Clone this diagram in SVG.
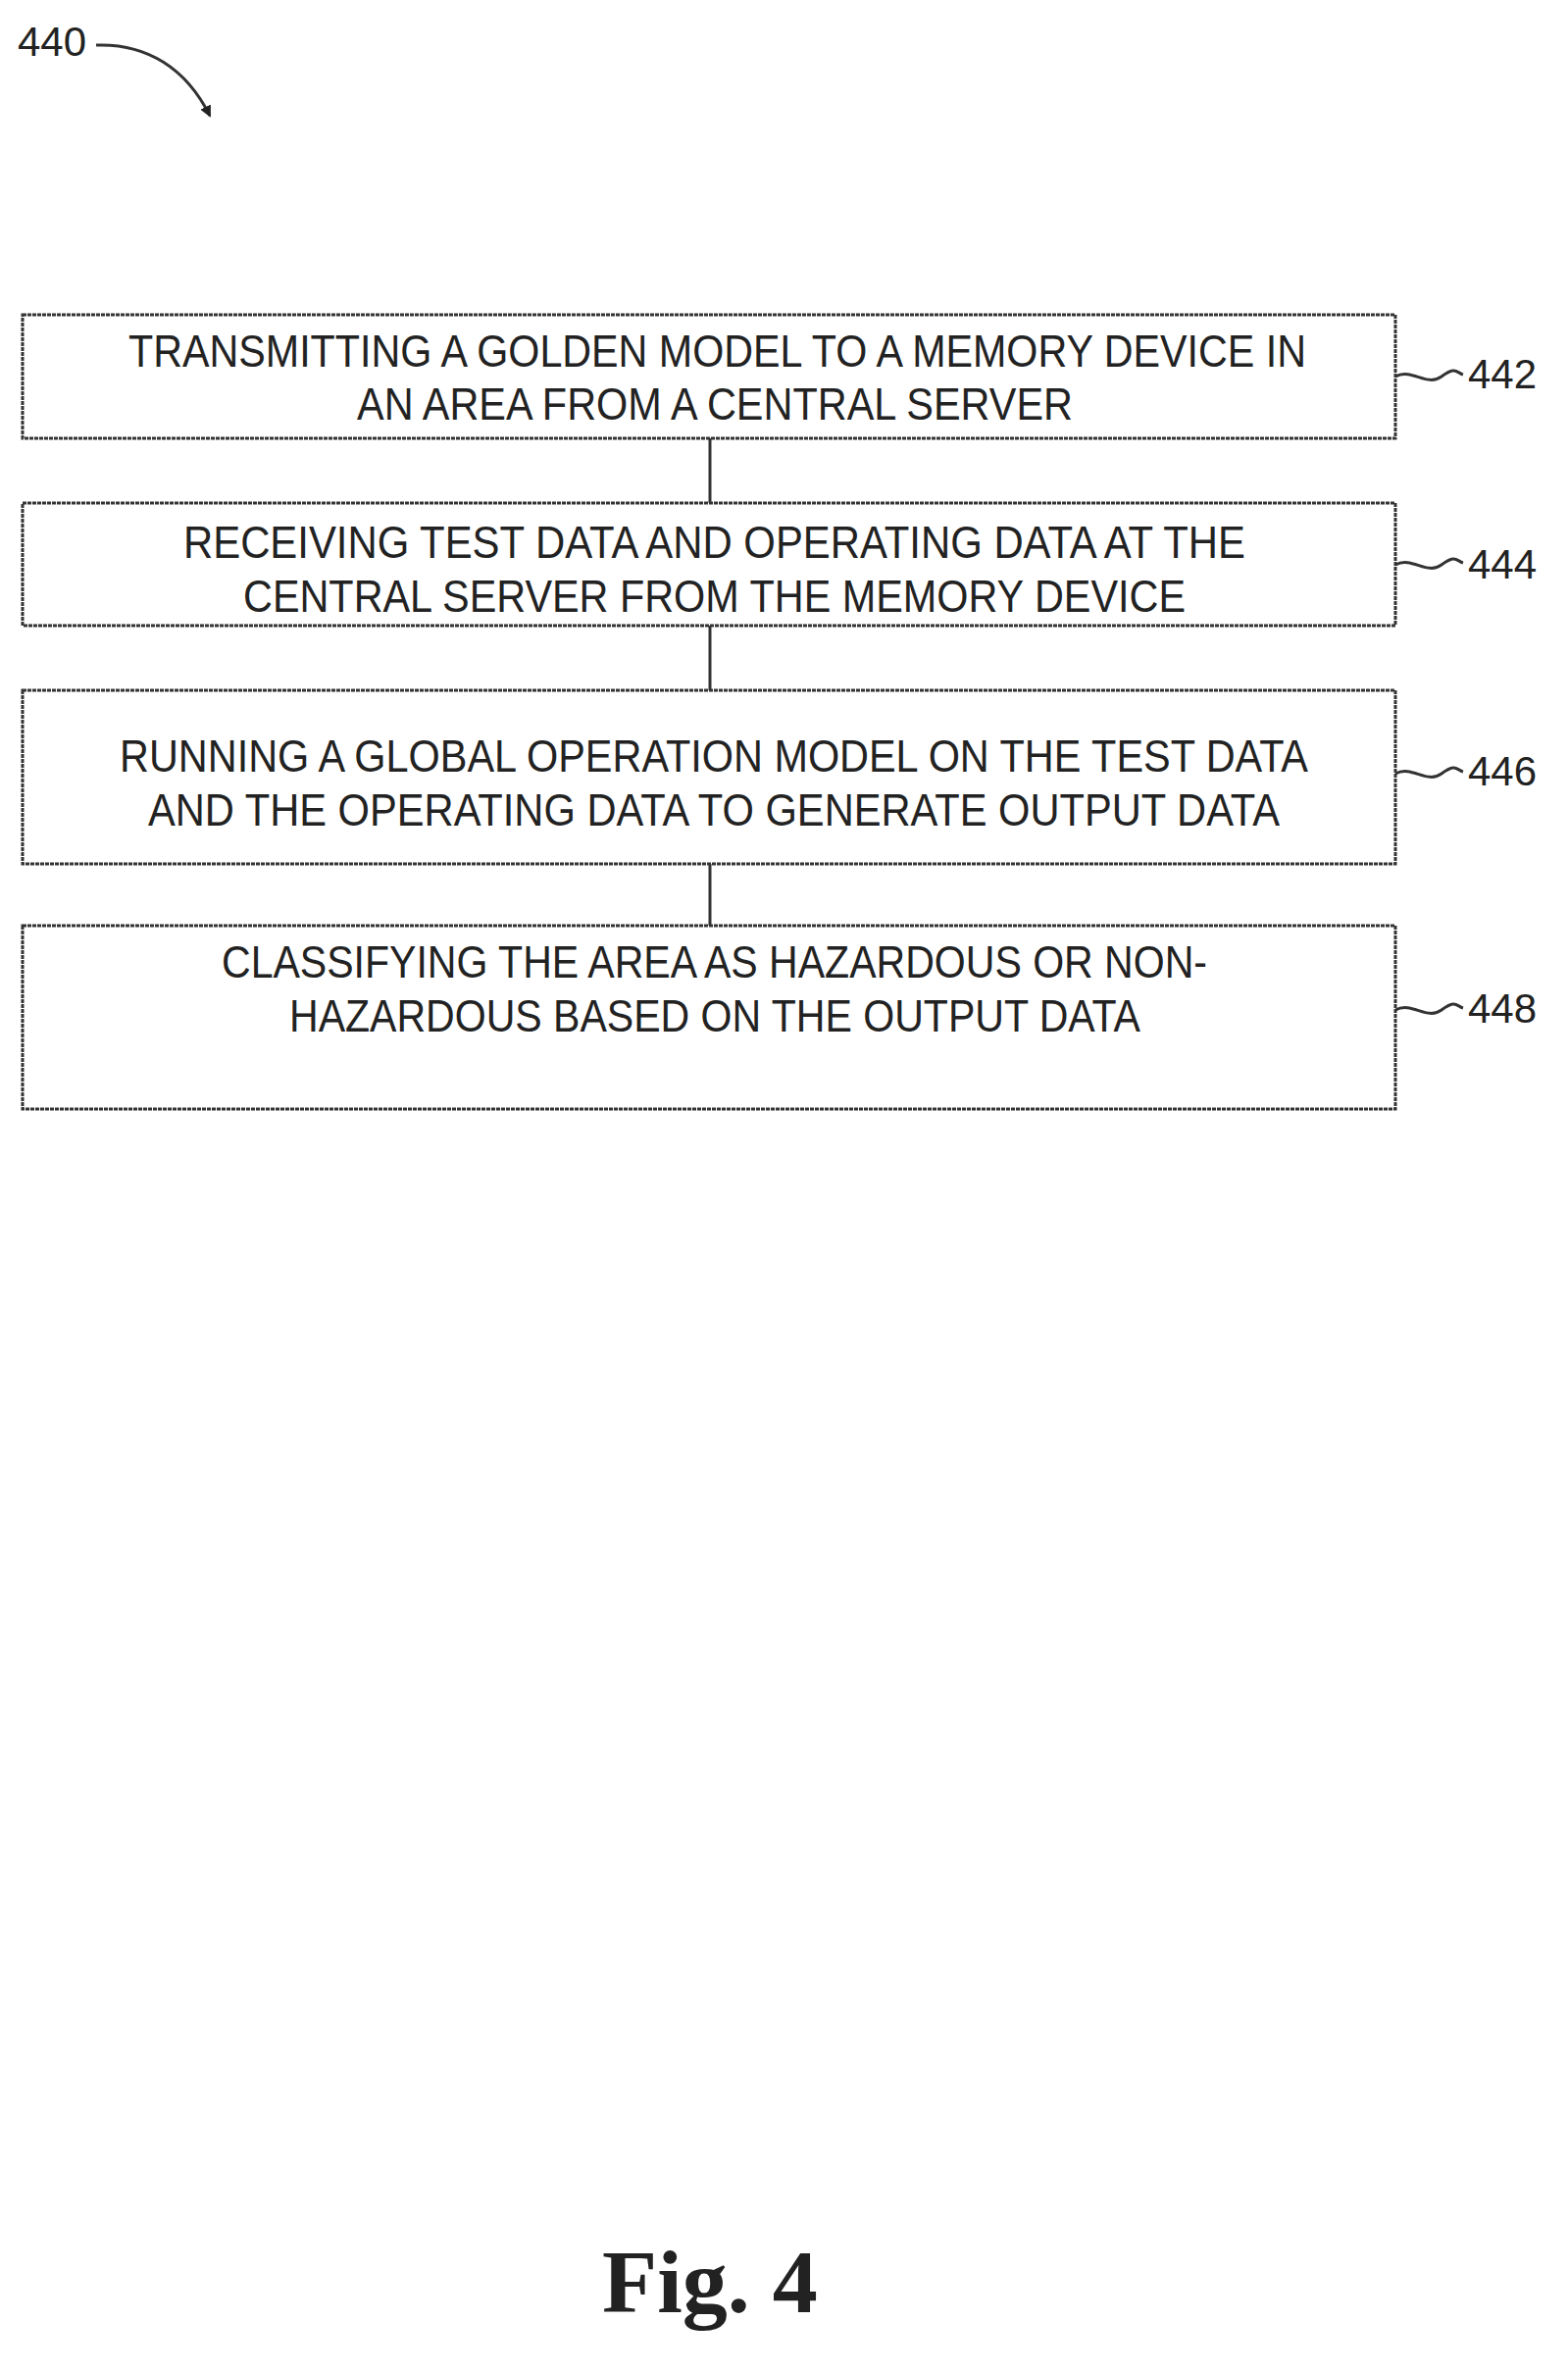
<svg xmlns="http://www.w3.org/2000/svg" width="1599" height="2418" viewBox="0 0 1599 2418">
<style>
.box{fill:#fff;stroke:#333;stroke-width:3;stroke-dasharray:4 1}
.t{font-family:"Liberation Sans",Arial,sans-serif;font-size:46px;fill:#222}
.c{stroke:#333;stroke-width:3;fill:none}
.l{font-family:"Liberation Sans",Arial,sans-serif;font-size:42px;fill:#222}
</style>
<defs><marker id="ah" markerWidth="12" markerHeight="12" refX="10" refY="6" orient="auto" markerUnits="userSpaceOnUse" viewBox="0 0 12 12"><path d="M0,0 L12,6 L0,12 Z" fill="#222"/></marker></defs>
<text class="l" x="18" y="57">440</text>
<path class="c" d="M98,46 C150,44 190,70 214,118" marker-end="url(#ah)"/>
<g id="connectors">
<line class="c" x1="724" y1="447" x2="724" y2="513"/>
<line class="c" x1="724" y1="638" x2="724" y2="704"/>
<line class="c" x1="724" y1="881" x2="724" y2="944"/>
<path class="c" d="M1423,384 C1440,375 1455,395 1470,384 S1485,380 1492,382"/>
<path class="c" d="M1423,576 C1440,567 1455,587 1470,576 S1485,572 1492,574"/>
<path class="c" d="M1423,789 C1440,780 1455,800 1470,789 S1485,785 1492,787"/>
<path class="c" d="M1423,1030 C1440,1021 1455,1041 1470,1030 S1485,1026 1492,1028"/>
</g>
<g id="n442"><rect class="box" x="23" y="321" width="1400" height="126"/>
<text class="t" x="131" y="374" textLength="1201" lengthAdjust="spacingAndGlyphs">TRANSMITTING A GOLDEN MODEL TO A MEMORY DEVICE IN</text>
<text class="t" x="364" y="428" textLength="730" lengthAdjust="spacingAndGlyphs">AN AREA FROM A CENTRAL SERVER</text>
<text class="l" x="1497" y="396">442</text></g>
<g id="n444"><rect class="box" x="23" y="513" width="1400" height="125"/>
<text class="t" x="187" y="569" textLength="1083" lengthAdjust="spacingAndGlyphs">RECEIVING TEST DATA AND OPERATING DATA AT THE</text>
<text class="t" x="248" y="624" textLength="961" lengthAdjust="spacingAndGlyphs">CENTRAL SERVER FROM  THE MEMORY DEVICE</text>
<text class="l" x="1497" y="590">444</text></g>
<g id="n446"><rect class="box" x="23" y="704" width="1400" height="177"/>
<text class="t" x="122" y="787" textLength="1212" lengthAdjust="spacingAndGlyphs">RUNNING A GLOBAL OPERATION MODEL ON THE TEST DATA</text>
<text class="t" x="151" y="842" textLength="1154" lengthAdjust="spacingAndGlyphs">AND THE OPERATING DATA TO GENERATE OUTPUT DATA</text>
<text class="l" x="1497" y="801">446</text></g>
<g id="n448"><rect class="box" x="23" y="944" width="1400" height="187"/>
<text class="t" x="226" y="997" textLength="1005" lengthAdjust="spacingAndGlyphs">CLASSIFYING THE AREA AS HAZARDOUS OR NON-</text>
<text class="t" x="295" y="1052" textLength="868" lengthAdjust="spacingAndGlyphs">HAZARDOUS BASED ON THE OUTPUT DATA</text>
<text class="l" x="1497" y="1043">448</text></g>
<text x="724" y="2358" text-anchor="middle" font-family="Liberation Serif,serif" font-weight="bold" font-size="92" fill="#222">Fig. 4</text>
</svg>
